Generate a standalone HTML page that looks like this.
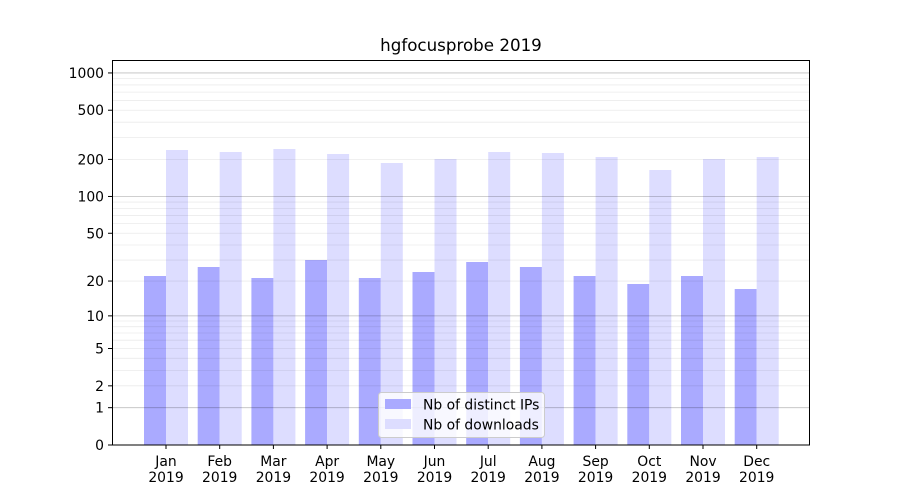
<!DOCTYPE html>
<html><head><meta charset="utf-8"><style>body{margin:0;background:#fff}svg{display:block}text{font-family:"DejaVu Sans","Liberation Sans",sans-serif;font-size:13.9px;fill:#000}</style></head>
<body>
<svg width="900" height="500" xmlns="http://www.w3.org/2000/svg">
<rect width="900" height="500" fill="#fff"/>
<g id="bars"></g>
<g id="grid"></g>
<rect x="112.5" y="60.5" width="697" height="384.5" fill="none" stroke="#000" stroke-width="1"/>
<g id="ticks"></g>
<text x="461" y="51" text-anchor="middle" style="font-size:16.7px">hgfocusprobe 2019</text>
<g>
<rect x="378.5" y="392.5" width="166" height="45" rx="3" fill="#fff" fill-opacity="0.8" stroke="#ccc"/>
<rect x="385" y="399" width="26" height="10" fill="#aaaaff"/>
<text x="423" y="409.5">Nb of distinct IPs</text>
<rect x="385" y="419" width="26" height="10" fill="#ddddff"/>
<text x="423" y="429.5">Nb of downloads</text>
</g>
<script>
var ns="http://www.w3.org/2000/svg";
function y(v){return 445-124*Math.log10(v+1);}
function el(p,t,a,txt){var e=document.createElementNS(ns,t);for(var k in a)e.setAttribute(k,a[k]);if(txt!=null)e.textContent=txt;document.getElementById(p).appendChild(e);return e;}
var minor=[];[1,10,100,1000].forEach(function(d){for(var i=2;i<=9;i++){var v=i*d;if(y(v)>60)minor.push(v);}});
minor.forEach(function(v){var yy=y(v);el("grid","line",{x1:112,x2:810,y1:yy,y2:yy,stroke:"#000","stroke-opacity":0.08,"stroke-width":0.8});});
[1,10,100,1000].forEach(function(v){var yy=y(v);el("grid","line",{x1:112,x2:810,y1:yy,y2:yy,stroke:"#000","stroke-opacity":0.25,"stroke-width":0.8});});
var ip=[276,267,278,260,278,272,262,267,276,284,276,289];
var dl=[150,152,149,154,163,159,152,153,157,170,159,157];
var m=["Jan","Feb","Mar","Apr","May","Jun","Jul","Aug","Sep","Oct","Nov","Dec"];
for(var i=0;i<12;i++){var c=166+i*53.7;
el("bars","rect",{x:c-22,y:ip[i],width:22,height:445-ip[i],fill:"#aaaaff"});
el("bars","rect",{x:c,y:dl[i],width:22,height:445-dl[i],fill:"#ddddff"});
el("ticks","line",{x1:c,x2:c,y1:445,y2:449,stroke:"#000"});
el("ticks","text",{x:c,y:466,"text-anchor":"middle"},m[i]);
el("ticks","text",{x:c,y:482,"text-anchor":"middle"},"2019");}
[0,1,2,5,10,20,50,100,200,500,1000].forEach(function(v){var yy=y(v);
el("ticks","line",{x1:108,x2:112,y1:yy,y2:yy,stroke:"#000"});
el("ticks","text",{x:104,y:yy+5,"text-anchor":"end"},String(v));});
</script>
</svg>
</body></html>
